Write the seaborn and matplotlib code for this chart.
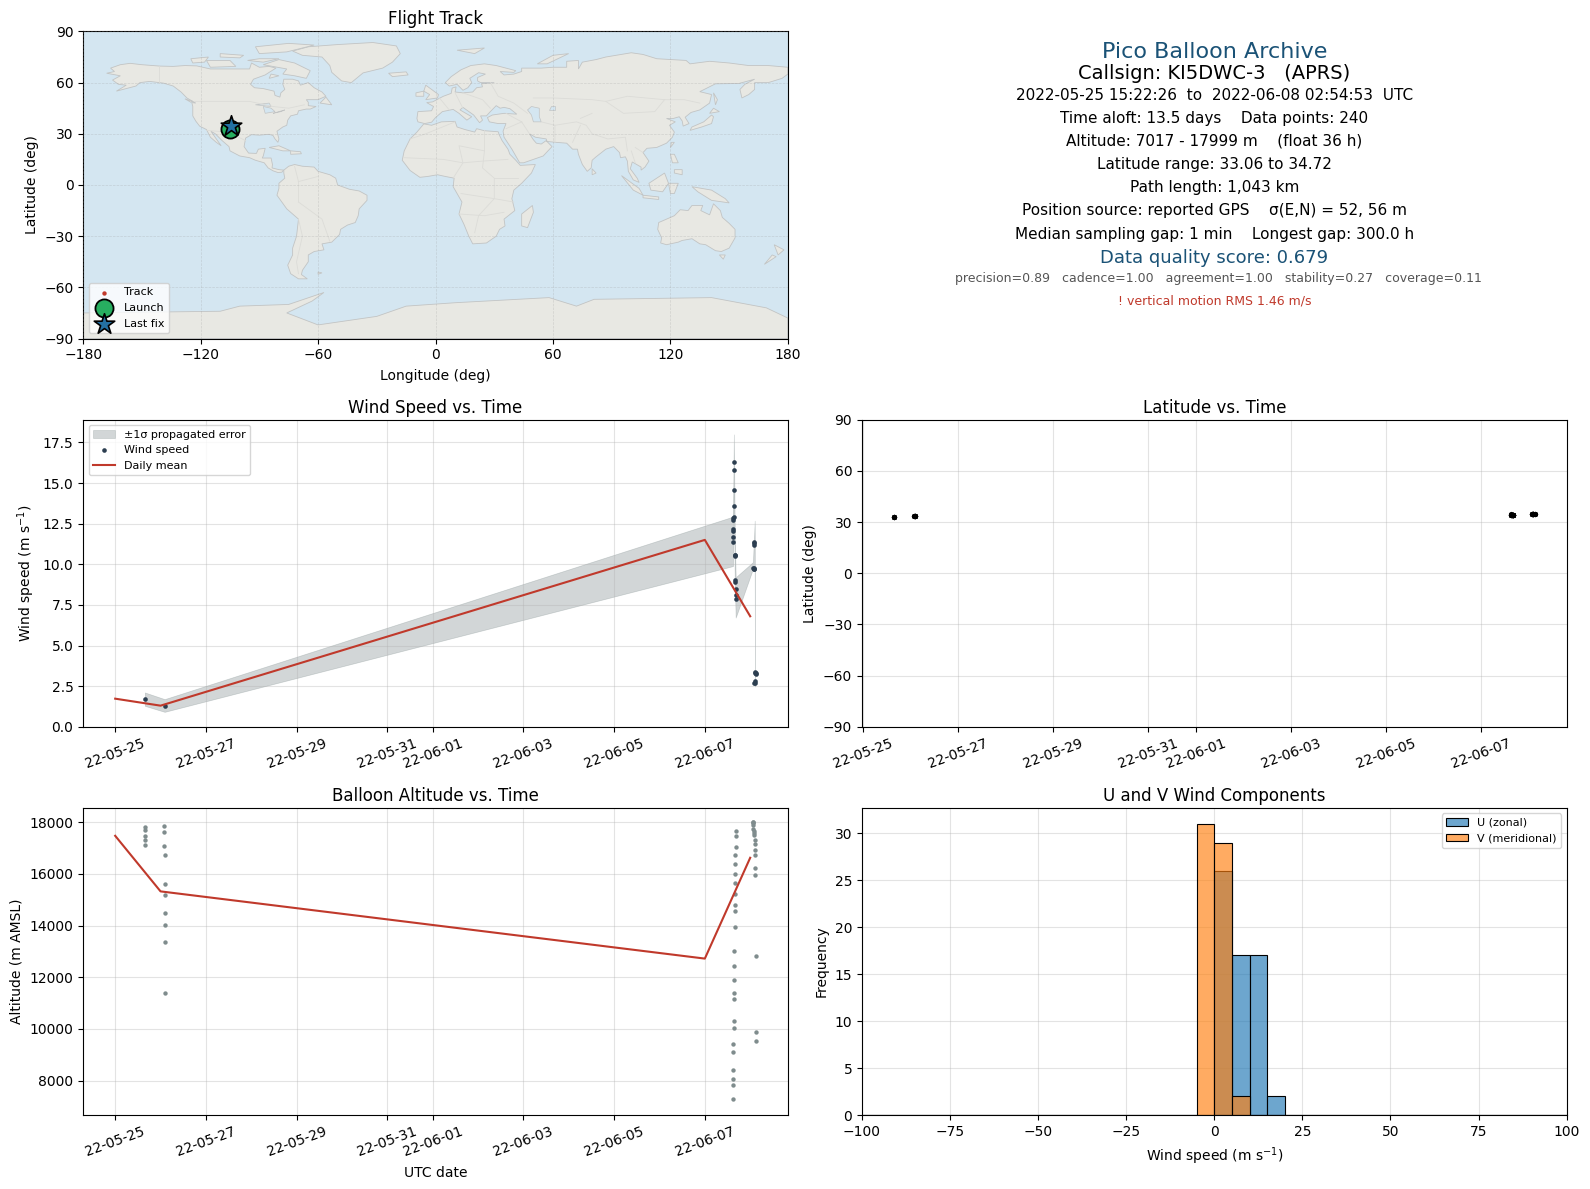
import pandas as pd
import matplotlib
matplotlib.use("Agg")
import matplotlib.pyplot as plt
import matplotlib.dates as mdates
import seaborn as sns

RED = "#c0392b"
NAVY = "#2c3e50"
GREY = "#7f8c8d"
TITLE_BLUE = "#1a5276"
LAND = "#e8e8e3"
OCEAN = "#d4e6f1"
COAST = "#c2c4c4"

# Coastlines (lon, lat), read by eye
north_america = [(-168,65.5),(-164,66.5),(-166,68.5),(-161,70.5),(-156,71.3),(-150,70.5),(-141,69.7),(-134,69.5),(-128,70),(-122,69.8),(-115,68),(-108,68),(-101,68),(-95,68),(-94,71.5),(-90,69),(-85,69.5),(-81.5,68.5),(-85,66),(-87,64.5),(-93,62),(-94.5,59),(-92.5,57),(-88,56.5),(-82.5,55),(-82,52.5),(-79.5,51.5),(-79,54),(-77,56),(-78,59),(-77.5,62),(-73,62),(-70,61),(-69,58.5),(-65,60),(-62,57),(-58,54.5),(-56,52),(-60,50),(-66,50),(-65,48.5),(-65,46.5),(-61,46),(-64,44.5),(-66,44.5),(-70,43.5),(-70.5,41.5),(-74,40.5),(-75.5,38),(-76,35),(-78,34),(-81,31.5),(-80,27),(-80.5,25),(-82,27),(-83,29),(-85,29.7),(-90,29.2),(-94,29.5),(-97,27.5),(-97.8,22.5),(-95.5,18.7),(-91.5,18.5),(-90.5,21),(-87,21.5),(-88,17),(-88.5,15.8),(-84,15.8),(-83.3,12),(-83.5,10),(-80,9),(-77.5,8.7),(-78.5,7.5),(-80.5,7.3),(-83,8.3),(-85.5,10),(-87.5,13),(-92,14.5),(-95,16),(-100,17),(-105,20),(-105.5,22.5),(-109,26),(-112.5,30),(-114.7,31.5),(-112,27),(-109.5,23),(-112,25),(-115,28),(-117,32.5),(-120.5,34.5),(-122.5,37.5),(-124,40.5),(-124,46),(-124.5,48.3),(-122.5,48),(-127,51),(-130,54.5),(-134,58),(-139,59.7),(-146,60.7),(-151,60),(-153,58),(-158,56.5),(-163,55),(-158,58.5),(-162,59),(-165,61.5),(-161,64)]
south_america = [(-77.5,8.7),(-75,11),(-72,12),(-68,11),(-62,10.5),(-60,8),(-54,6),(-51,4),(-50,0),(-44,-2.5),(-39,-3.5),(-35,-6),(-35,-9),(-39,-14),(-39.5,-18),(-41,-22),(-45,-23.5),(-48.5,-26),(-49,-29),(-53,-33.5),(-58,-34.5),(-57,-38),(-62,-39),(-65,-41),(-65,-45),(-68,-50),(-68.5,-52.5),(-65.5,-55),(-70,-55),(-74,-52),(-75.5,-47),(-73,-41),(-73,-37),(-71,-30),(-70,-20),(-76,-14),(-81,-6),(-80,-2),(-80,1),(-77,4),(-77.5,7)]
africa = [(-6,35.8),(-2,35),(3,37),(10,37.3),(11,34),(15,32.5),(20,31),(21,33),(25,31.8),(32,31.2),(32.5,29.5),(34,26),(37,21),(38,18),(41,14.5),(43.3,11.5),(51,12),(49,7),(44,1),(40,-3),(39,-8),(40.5,-15),(35,-20),(35.5,-24),(32.7,-26),(31,-30),(26,-34),(19,-34.5),(17,-30),(14.5,-23),(12,-17),(13.5,-10),(9,-1),(9.5,4),(5,5),(1,6),(-4,5),(-8,4.5),(-13,8.5),(-17,14.5),(-16,20),(-13,27),(-9.5,31)]
eurasia = [(-9,37),(-9.5,39),(-9,43),(-2,43.5),(-1,46),(-4.5,48.3),(-1.5,48.7),(1.5,50.5),(4,52),(8,53.7),(8.5,56.8),(10.5,57.5),(10,54.5),(14,54),(19,54.5),(21,57),(24,57.5),(23.5,59.3),(30,60),(23,60),(21.5,61),(21.5,63),(25.5,65),(22,65.8),(17.5,62.5),(18.5,60),(16.5,57),(14,55.5),(11,59),(7,58),(5,60),(8,63.5),(13,67.5),(18,70),(25,71),(31,70),(41,67),(40,66),(33,66.5),(35,64.5),(40,65),(44,66.5),(44,68.5),(54,68.5),(60,69),(67,69),(67,72.5),(73,73),(73,68),(75,72),(82,73.5),(87,75),(100,77.5),(106,76.5),(113,74),(128,73),(130,71),(140,72.5),(150,71.5),(160,70),(170,70),(180,69),(180,65),(177,62.5),(170,60),(163,60),(163,56),(160,53),(156.5,51),(155.5,56),(158,59),(163,62),(155,59.5),(143,59.3),(135,54.7),(141,53),(140,48),(135,44),(130.5,42.5),(127.5,39.7),(129.5,36),(126.5,34.5),(126,37.5),(124.5,40),(121.5,39),(118,39),(122.5,37),(119.5,35),(122,31),(121,28),(118,24.5),(113,22),(108,21.5),(106,19),(109,14),(107,10.5),(105,8.7),(105,10.5),(100.5,13.5),(99.5,9.5),(103,4),(104,1.5),(101,3),(98.5,8),(98,14),(97,16.5),(94.5,16),(94,19),(91,22.5),(87,21),(82,16.5),(80,14.5),(79.5,10),(77.5,8),(75,12),(73,18),(72.5,21),(70,21),(67,24.5),(61.5,25),(57,25.5),(56.5,27),(51,28),(48,30),(50,26.5),(51.5,24.5),(54,24),(56.5,26),(59.5,22.5),(55,17),(45,13),(43,13),(39,21),(35,28),(34.5,31.5),(36,36),(32,36),(27.5,37),(26.5,39.5),(29,41),(35,42),(41.5,41.5),(38,44.7),(35,45.5),(33,45),(31,46.5),(28,43),(26,40.5),(23,40.5),(24,38),(22.5,36.5),(19.5,41),(14,45.5),(12.5,44),(18.5,40),(16,38),(12,42),(9,44.3),(3.5,43),(0,39.5),(-2,36.8),(-5.5,36)]
australia = [(114,-22),(117,-20.5),(122,-18),(125,-14.5),(129,-15),(131,-12),(136.5,-12),(135.5,-15),(140,-17.5),(142,-11),(145.5,-15),(146.5,-19),(150,-22.5),(153,-26),(153,-31),(150,-37),(146,-39),(143,-38.5),(138,-35),(135,-34.5),(131,-31.5),(126,-32.5),(124,-33.5),(118,-35),(115,-34),(115.5,-31),(113.5,-26)]
greenland = [(-73,78.5),(-65,81),(-50,82.3),(-32,83.5),(-20,81.5),(-18,77),(-22,72),(-27,68.5),(-37,65.7),(-43,60),(-48,61),(-53,66),(-54,70),(-58,75),(-68,76)]
antarctica = [(-180,-90),(-180,-75),(-110,-74),(-100,-71),(-75,-70),(-57,-63),(-63,-68),(-76,-75),(-60,-82),(-30,-77),(-15,-71),(10,-69),(58,-66),(72,-71),(81,-67),(141,-66),(169,-72),(180,-78),(180,-90)]
islands = [
    [(-80,73.5),(-72,71.5),(-64,67),(-66,62.5),(-72,64),(-78,65),(-76,68),(-88,70.5)],
    [(-117,73),(-105,73),(-102,69.5),(-115,69)],
    [(-90,77),(-76,78),(-62,82),(-75,83),(-92,81)],
    [(-125,74),(-116,75),(-118,72),(-124,71.5)],
    [(-110,77),(-98,76),(-100,74.5),(-110,75)],
    [(-96,73),(-90,74),(-80,74),(-88,72)],
    [(-84,65),(-80,64),(-85,62.5)],
    [(-59,48),(-53,47),(-56,51.5)],
    [(-128,50.5),(-124,49),(-125,48.5)],
    [(-85,22),(-80,23),(-74,20),(-78,20)],
    [(-74,20),(-69,19.5),(-68.5,18.3),(-74,18)],
    [(-24,65.5),(-15,66.3),(-14,64.5),(-22,63.5)],
    [(-5,50),(1,51),(1.5,53),(-2,56),(-5,58.5),(-6,55),(-3,53)],
    [(-10,52),(-6,52),(-6,55),(-10,54)],
    [(11,79),(25,80.3),(20,77)],
    [(52,71),(60,76),(68,77),(57,71)],
    [(142,54),(143,47),(144,50)],
    [(130,32),(136,34),(141,36),(142,40),(141,41),(137,37),(131,34)],
    [(140,42),(145,43),(142,45)],
    [(120,22),(122,25),(120.5,25)],
    [(120,18),(122,18),(124,13),(121,13)],
    [(122,9),(126,9),(126,6),(122,7)],
    [(95,5.5),(104,-2),(106,-6),(101,-3)],
    [(106,-6),(114,-7),(114,-8.5),(106,-7.5)],
    [(109,1),(117,7),(119,1),(116,-4),(110,-3)],
    [(119,1),(124,1),(122,-5),(120,-5)],
    [(131,-1),(141,-3),(148,-8),(150,-10.5),(141,-9),(134,-4)],
    [(80,9.5),(82,7),(80,6)],
    [(49.5,-12),(50,-16),(47,-25),(44,-24),(44,-17)],
    [(145,-41),(148,-41),(147,-43.5)],
    [(173,-35),(178,-38),(175,-41)],
    [(172,-41),(174,-42),(168,-46.5)],
    [(-60,-51),(-58,-51.5),(-60,-52.3)],
]
water = [
    [(49,46),(53,45),(53,40),(54,37),(50,37),(49,41),(47,44)],
    [(-92,47),(-85,48),(-84,46),(-88,46.5)],
    [(-88,46),(-84,45),(-82,43),(-87,42)],
    [(-83,42),(-77,44),(-79,43)],
    [(59,46),(61,46),(61,44),(58,44)],
]
borders = [
    [(-141,70),(-141,60)], [(-123,49),(-95,49),(-83,46),(-75,45),(-67,47)],
    [(-117,32),(-106,31),(-97,26)], [(-70,-20),(-68,-30),(-71,-45),(-70,-52)],
    [(-70,-10),(-58,-20),(-54,-33)], [(-70,2),(-60,5)], [(-70,-10),(-70,2),(-72,11)],
    [(-13,27),(-5,30),(10,37)], [(25,32),(25,20),(24,10),(30,4),(30,-8),(22,-18),(20,-28)],
    [(-16,16),(4,15),(14,13),(24,14),(37,15)], [(9,4),(14,13),(12,23),(25,20)],
    [(13,-5),(30,-8),(40,-10)], [(12,-17),(25,-18),(35,-16)], [(42,4),(34,4),(30,4)],
    [(28,60),(32,52),(40,48),(47,42)], [(50,51),(60,51),(80,50),(87,49),(98,52),(117,50),(127,50),(135,48)],
    [(54,37),(61,35),(61,25)], [(61,35),(72,37),(77,35),(80,30),(88,27),(97,28),(98,20)],
    [(74,35),(70,25)], [(80,42),(74,39)], [(87,49),(96,42),(112,43),(117,50)],
    [(44,37),(48,30)], [(36,33),(44,37)], [(44,37),(36,42)], [(2,51),(7,44)], [(10,54),(14,45)], [(14,54),(24,50),(28,45)],
    [(102,22),(106,19)], [(100,20),(102,13)],
]

# Flight samples: days since 2022-05-25 00:00 UTC
base_time = pd.Timestamp("2022-05-25")

daily_days = [0, 1, 13, 14]
daily_wind = [1.73, 1.30, 11.50, 6.80]
daily_alt = [17470, 15320, 12720, 16620]

wind_days = [0.654, 1.09,
             13.64, 13.64, 13.64, 13.64, 13.64, 13.63, 13.62, 13.62, 13.62, 13.62, 13.62,
             13.66, 13.655, 13.665, 13.665, 13.66, 13.68, 13.685, 13.68,
             14.08, 14.08, 14.08, 14.07, 14.075, 14.085, 14.08,
             14.10, 14.105, 14.125, 14.12, 14.095, 14.10, 14.09]
wind_speed = [1.70, 1.29,
              16.28, 15.80, 14.60, 13.58, 12.93, 12.85, 12.70, 12.17, 12.03, 11.68, 11.38,
              10.56, 10.50, 10.60, 9.05, 8.93, 8.50, 8.13, 7.89,
              11.36, 11.28, 11.20, 9.75, 9.72, 9.78, 9.70,
              3.40, 3.32, 3.25, 3.30, 2.80, 2.72, 2.70]

band_days = [0.654, 1.09, 13.62, 13.64, 13.66, 13.68, 14.06, 14.10, 14.105]
band_low = [1.29, 0.92, 9.89, 14.60, 9.00, 6.72, 9.72, 9.70, 2.48]
band_high = [2.11, 1.70, 12.93, 17.99, 11.50, 9.20, 10.13, 12.68, 4.00]

alt_days = [0.654] * 5 + [1.07, 1.07, 1.07, 1.09, 1.09, 1.09, 1.09, 1.09, 1.09, 1.09] + \
    [13.68, 13.68, 13.68, 13.66, 13.66, 13.66, 13.66, 13.66, 13.66, 13.66, 13.66, 13.64, 13.64, 13.64,
     13.64, 13.64, 13.64, 13.64, 13.62, 13.62, 13.62, 13.62, 13.62, 13.62] + \
    [14.06, 14.06, 14.07, 14.07, 14.07, 14.08, 14.09, 14.09, 14.10, 14.10, 14.10, 14.10, 14.10, 14.10,
     14.125, 14.125, 14.125]
altitude = [17806, 17690, 17458, 17303, 17110,
            17845, 17613, 17084, 16735, 15613, 15187, 14490, 14026, 13368, 11394,
            17664, 17470, 17044, 16734, 16385, 16000, 15649, 15222, 14796, 14563, 13943, 13013, 12432, 11889,
            11385, 11152, 10300, 10028, 9408, 9098, 8400, 8052, 7819, 7276,
            17999, 17990, 17948, 17897, 17742, 17664, 17587, 17509, 17315, 17160, 16928, 16734, 16230, 15959,
            12819, 9873, 9525]
latitude = [33.06, 33.08, 33.08, 33.1, 33.1,
            33.5, 33.5, 33.52, 33.52, 33.54, 33.54, 33.55, 33.55, 33.56, 33.56,
            34.1, 34.1, 34.12, 34.14, 34.15, 34.16, 34.18, 34.2, 34.2, 34.22, 34.24, 34.25, 34.26, 34.28,
            34.3, 34.3, 34.32, 34.34, 34.35, 34.36, 34.38, 34.4, 34.4, 34.42,
            34.5, 34.5, 34.52, 34.54, 34.55, 34.56, 34.58, 34.6, 34.6, 34.62, 34.64, 34.65, 34.66, 34.68,
            34.7, 34.7, 34.72]

track_lon = [-106.0, -106.8, -107.8, -108.6]
track_lat = [33.06, 33.5, 34.2, 34.72]
launch_lon, launch_lat = [-105.0], [33.0]
last_lon, last_lat = [-104.6], [34.5]

hist_bins = list(range(-100, 105, 5))
bin_centers = [-2.5, 2.5, 7.5, 12.5, 17.5]
u_counts = [0, 26, 17, 17, 2]
v_counts = [31, 29, 2, 0, 0]

info_lines = [
    ("Pico Balloon Archive", 16, TITLE_BLUE, 1197.5, 51),
    ("Callsign: KI5DWC-3   (APRS)", 14, "black", 1197.5, 73),
    ("2022-05-25 15:22:26  to  2022-06-08 02:54:53  UTC", 11, "black", 1197.5, 94),
    ("Time aloft: 13.5 days    Data points: 240", 11, "black", 1197.5, 117),
    ("Altitude: 7017 - 17999 m    (float 36 h)", 11, "black", 1197.5, 139),
    ("Latitude range: 33.06 to 34.72", 11, "black", 1197.5, 162),
    ("Path length: 1,043 km", 11, "black", 1197.5, 185),
    ("Position source: reported GPS    σ(E,N) = 52, 56 m", 11, "black", 1197.5, 208),
    ("Median sampling gap: 1 min    Longest gap: 300.0 h", 11, "black", 1197.5, 231),
    ("Data quality score: 0.679", 13, TITLE_BLUE, 1197.5, 255),
    ("precision=0.89   cadence=1.00   agreement=1.00   stability=0.27   coverage=0.11", 9, "#555555", 1201.5, 275),
    ("! vertical motion RMS 1.46 m/s", 9, RED, 1197.5, 297),
]


def to_time(days):
    return base_time + pd.to_timedelta(days, unit="D")


def style_time_axis(ax):
    ax.xaxis.set_major_locator(mdates.AutoDateLocator())
    ax.xaxis.set_major_formatter(mdates.DateFormatter("%y-%m-%d"))
    ax.tick_params(axis="x", labelrotation=20)
    ax.grid(True, color="#b0b0b0", alpha=0.35, lw=0.8)


fig = plt.figure(figsize=(15.9, 11.89), dpi=100)
H = 1173.0
W = 1568.0
plt.rcParams["axes.titlepad"] = 5


def make_axes(left, top):
    return fig.add_axes([left / W, 1 - (top + 303) / H, 695 / W, 303 / H])


ax_map = make_axes(82, 31)
ax_wind = make_axes(82, 414)
ax_lat = make_axes(850, 414)
ax_alt = make_axes(82, 797)
ax_hist = make_axes(850, 797)

# Flight track map
ax_map.set_facecolor(OCEAN)
for poly in [north_america, south_america, africa, eurasia, australia, greenland, antarctica] + islands:
    xs, ys = zip(*poly)
    ax_map.fill(xs, ys, facecolor=LAND, edgecolor=COAST, lw=0.6, zorder=1)
for poly in water:
    xs, ys = zip(*poly)
    ax_map.fill(xs, ys, facecolor=OCEAN, edgecolor=COAST, lw=0.5, zorder=1.1)
for line in borders:
    xs, ys = zip(*line)
    ax_map.plot(xs, ys, color="#dcdcd8", lw=0.6, zorder=1.2)
ax_map.grid(True, color="#999999", alpha=0.3, lw=0.5, ls="--", zorder=1.5)
ax_map.set_axisbelow(False)
sns.scatterplot(x=track_lon, y=track_lat, ax=ax_map, color=RED, s=10, linewidth=0, label="Track", zorder=3)
sns.scatterplot(x=launch_lon, y=launch_lat, ax=ax_map, color="#27ae60", s=170, edgecolor="black",
                linewidth=1.3, label="Launch", zorder=4)
sns.scatterplot(x=last_lon, y=last_lat, ax=ax_map, color="#2471a3", marker="*", s=240, edgecolor="black",
                linewidth=1.2, label="Last fix", zorder=5)
ax_map.set_xlim(-180, 180)
ax_map.set_ylim(-90, 90)
ax_map.set_xticks(range(-180, 181, 60))
ax_map.set_yticks(range(-90, 91, 30))
ax_map.set_xlabel("Longitude (deg)", labelpad=5)
ax_map.set_ylabel("Latitude (deg)")
ax_map.set_title("Flight Track")
ax_map.legend(loc="lower left", fontsize=8)

# Info text
for text, size, color, x, y in info_lines:
    fig.text(x / W, 1 - y / H, text, fontsize=size, color=color, ha="center", va="center")

# Wind speed
ax_wind.fill_between(to_time(band_days), band_low, band_high, color=GREY, alpha=0.35, linewidth=0.5,
                     label="±1σ propagated error")
sns.scatterplot(x=to_time(wind_days), y=wind_speed, ax=ax_wind, color=NAVY, s=11, linewidth=0, label="Wind speed", zorder=3)
sns.lineplot(x=to_time(daily_days), y=daily_wind, ax=ax_wind, color=RED, lw=1.5, errorbar=None, label="Daily mean", zorder=4)
ax_wind.set_ylim(0, 18.9)
ax_wind.set_xlabel("")
ax_wind.set_ylabel("Wind speed (m s$^{-1}$)")
ax_wind.set_title("Wind Speed vs. Time")
ax_wind.legend(loc="upper left", fontsize=8)
style_time_axis(ax_wind)

# Latitude
sns.scatterplot(x=to_time(alt_days), y=latitude, ax=ax_lat, color="black", s=14, linewidth=0)
ax_lat.set_ylim(-90, 90)
ax_lat.set_yticks(range(-90, 91, 30))
ax_lat.set_xlabel("")
ax_lat.set_ylabel("Latitude (deg)")
ax_lat.set_title("Latitude vs. Time")
style_time_axis(ax_lat)

# Altitude
sns.scatterplot(x=to_time(alt_days), y=altitude, ax=ax_alt, color=GREY, s=10, linewidth=0, zorder=3)
sns.lineplot(x=to_time(daily_days), y=daily_alt, ax=ax_alt, color=RED, lw=1.5, errorbar=None, zorder=4)
ax_alt.set_ylim(6670, 18550)
ax_alt.set_xlabel("UTC date", labelpad=5)
ax_alt.set_ylabel("Altitude (m AMSL)")
ax_alt.set_title("Balloon Altitude vs. Time")
style_time_axis(ax_alt)

# U and V histogram
sns.histplot(x=bin_centers, weights=u_counts, bins=hist_bins, ax=ax_hist, color="#1f77b4", alpha=0.65,
             edgecolor="black", linewidth=0.8, label="U (zonal)")
sns.histplot(x=bin_centers, weights=v_counts, bins=hist_bins, ax=ax_hist, color="#ff7f0e", alpha=0.65,
             edgecolor="black", linewidth=0.8, label="V (meridional)")
ax_hist.set_xlim(-100, 100)
ax_hist.set_ylim(0, 32.7)
ax_hist.set_xlabel("Wind speed (m s$^{-1}$)", labelpad=5)
ax_hist.set_ylabel("Frequency")
ax_hist.set_title("U and V Wind Components")
ax_hist.grid(True, color="#b0b0b0", alpha=0.35, lw=0.8)
ax_hist.set_axisbelow(True)
ax_hist.legend(loc="upper right", fontsize=8)

fig.savefig("out.png", dpi=100)
